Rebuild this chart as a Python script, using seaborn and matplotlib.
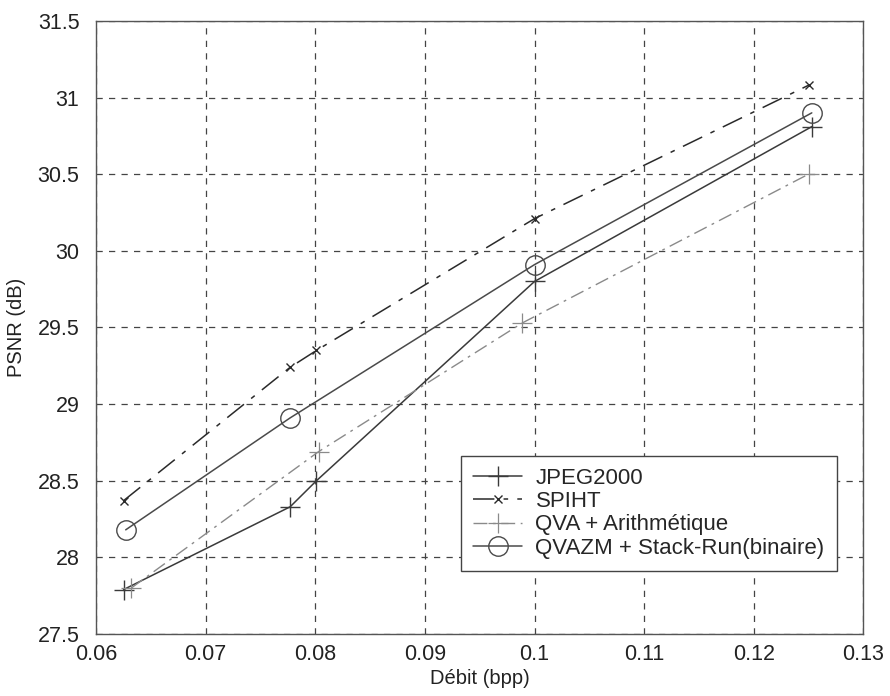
import pandas as pd
import seaborn as sns
import matplotlib.pyplot as plt

# Data
jpeg_x = [0.0625, 0.0777, 0.0801, 0.1, 0.1253]
jpeg_y = [27.79, 28.33, 28.50, 29.80, 30.81]

spiht_x = [0.0625, 0.0777, 0.0801, 0.1, 0.125]
spiht_y = [28.37, 29.24, 29.35, 30.21, 31.08]

qva_x = [0.0632, 0.0803, 0.0989, 0.125]
qva_y = [27.80, 28.69, 29.53, 30.50]

qvazm_x = [0.0627, 0.0777, 0.1, 0.1253]
qvazm_y = [28.18, 28.91, 29.91, 30.90]

labels = ["JPEG2000", "SPIHT", "QVA + Arithmétique", "QVAZM + Stack-Run(binaire)"]

sns.set_style("white")
plt.rcParams['font.family'] = ['Liberation Sans', 'DejaVu Sans']

fig = plt.figure(figsize=(8.9, 6.96), dpi=100)
ax = fig.add_axes([0.108, 0.089, 0.862, 0.881])

sns.lineplot(x=jpeg_x, y=jpeg_y, ax=ax, sort=False, color="#3a3a3a", linewidth=1.1,
             marker="+", markersize=15, markeredgewidth=1.0, markeredgecolor="#3a3a3a",
             label=labels[0])
sns.lineplot(x=spiht_x, y=spiht_y, ax=ax, sort=False, color="#2a2a2a", linewidth=1.1,
             marker="x", markersize=6, markeredgewidth=1.0, markeredgecolor="#2a2a2a",
             label=labels[1])
ax.lines[-1].set_dashes([14, 6, 3, 6])
sns.lineplot(x=qva_x, y=qva_y, ax=ax, sort=False, color="#8a8a8a", linewidth=1.0,
             marker="+", markersize=15, markeredgewidth=0.9, markeredgecolor="#8a8a8a",
             label=labels[2])
ax.lines[-1].set_dashes([10, 4, 2, 4])
sns.lineplot(x=qvazm_x, y=qvazm_y, ax=ax, sort=False, color="#4a4a4a", linewidth=1.1,
             marker="o", markersize=14, markerfacecolor="none", markeredgecolor="#4a4a4a",
             markeredgewidth=1.0, label=labels[3])

ax.set_xlim(0.06, 0.13)
ax.set_ylim(27.5, 31.5)
ax.set_xticks([0.06, 0.07, 0.08, 0.09, 0.1, 0.11, 0.12, 0.13])
ax.set_xticklabels(["0.06", "0.07", "0.08", "0.09", "0.1", "0.11", "0.12", "0.13"])
ax.set_yticks([27.5, 28, 28.5, 29, 29.5, 30, 30.5, 31, 31.5])
ax.set_yticklabels(["27.5", "28", "28.5", "29", "29.5", "30", "30.5", "31", "31.5"])

ax.grid(True, color="#444444", linestyle=(0, (5, 5)), linewidth=0.9)
ax.tick_params(direction="in", length=5, labelsize=15.5, colors="#222222")
ax.tick_params(axis="x", pad=7)
ax.tick_params(axis="y", pad=12)
for s in ax.spines.values():
    s.set_color("#555555")
    s.set_linewidth(1.0)

ax.set_xlabel("Débit (bpp)", fontsize=14.5, color="#222222", labelpad=3)
ax.set_ylabel("PSNR (dB)", fontsize=14.5, color="#222222", labelpad=8)

leg = ax.legend(loc="lower right", bbox_to_anchor=(0.98, 0.085), fontsize=16,
                frameon=True, fancybox=False, framealpha=1, edgecolor="#444444",
                handlelength=2.2, borderpad=0.55, labelspacing=0.1, handletextpad=0.6)
leg.get_frame().set_linewidth(1.0)

fig.savefig("out.png", dpi=100)
